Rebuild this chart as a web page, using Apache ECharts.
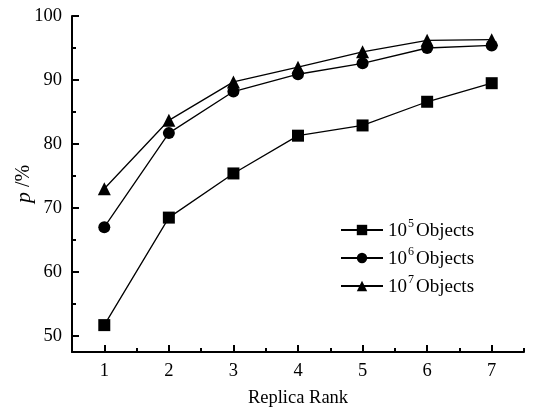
<!DOCTYPE html>
<html>
<head>
<meta charset="utf-8">
<script src="https://cdn.jsdelivr.net/npm/echarts@6/dist/echarts.min.js"></script>
<style>
  html, body { margin: 0; padding: 0; background: #fff; }
  #myChart { width: 538px; height: 410px; }
</style>
</head>
<body>
<div id="myChart"></div>
<script>
// replica rank on x axis
var ranks = [1, 2, 3, 4, 5, 6, 7]
// p (%) for each object count
var objects1e5 = [51.7, 68.5, 75.4, 81.3, 82.9, 86.6, 89.5]
var objects1e6 = [67.0, 81.7, 88.2, 90.9, 92.6, 95.0, 95.4]
var objects1e7 = [73.0, 83.7, 89.7, 92.0, 94.4, 96.2, 96.3]
var exponents = ['5', '6', '7']
var seriesNames = ['10^5 Objects', '10^6 Objects', '10^7 Objects']
// tick labels
var xMajorTicks = [1, 2, 3, 4, 5, 6, 7]
var xMinorTicks = [1.5, 2.5, 3.5, 4.5, 5.5, 6.5, 7.5]
var yMajorTicks = [50, 60, 70, 80, 90, 100]
var yMinorTicks = [55, 65, 75, 85, 95]

var font = '"Liberation Serif", "DejaVu Serif", serif'

function pairs (vals) {
  return ranks.map(function (r, i) { return [r, vals[i]] })
}

function lineSeries (name, vals, symbol, size) {
  return {
    name: name,
    type: 'line',
    data: pairs(vals),
    symbol: symbol,
    symbolSize: size,
    showSymbol: true,
    lineStyle: { color: '#000', width: 1.3 },
    itemStyle: { color: '#000' },
    emphasis: { disabled: true },
    animation: false
  }
}

var axisLine = { show: true, onZero: false, lineStyle: { color: '#000', width: 2 } }

var option = {
  backgroundColor: '#fff',
  animation: false,
  grid: { left: 72, right: 14, top: 16, bottom: 58, outerBoundsMode: 'none', containLabel: false },
  legend: {
    orient: 'vertical',
    left: 340,
    top: 218,
    padding: 0,
    itemWidth: 42,
    itemHeight: 13,
    itemGap: 5,
    data: seriesNames,
    formatter: function (name) {
      var k = seriesNames.indexOf(name)
      return '{n|10}{sup|' + exponents[k] + '}{n|Objects}'
    },
    textStyle: {
      color: '#000',
      fontFamily: font,
      fontSize: 19,
      rich: {
        n: { fontFamily: font, fontSize: 19, color: '#000', lineHeight: 22, verticalAlign: 'bottom', padding: [0, 0, 0, 0] },
        sup: { fontFamily: font, fontSize: 12, color: '#000', verticalAlign: 'bottom', lineHeight: 12, padding: [0, 2, 11, 1] }
      }
    }
  },
  xAxis: [
    {
      type: 'value',
      min: 0.5,
      max: 7.5,
      name: 'Replica Rank',
      nameLocation: 'middle',
      nameGap: 37,
      nameMoveOverlap: false,
      nameTextStyle: { fontFamily: font, fontSize: 18.5, color: '#000' },
      axisLine: axisLine,
      axisTick: { inside: true, length: 7, customValues: xMajorTicks, lineStyle: { color: '#000', width: 2 } },
      axisLabel: { customValues: xMajorTicks, margin: 10, fontFamily: font, fontSize: 18.5, color: '#000' },
      splitLine: { show: false }
    },
    {
      type: 'value',
      position: 'bottom',
      min: 0.5,
      max: 7.5,
      axisLine: { show: false },
      axisTick: { inside: true, length: 4, customValues: xMinorTicks, lineStyle: { color: '#000', width: 2 } },
      axisLabel: { show: false },
      splitLine: { show: false }
    }
  ],
  yAxis: [
    {
      type: 'value',
      min: 47.5,
      max: 100,
      name: '{it|p}{rest| /%}',
      nameLocation: 'middle',
      nameGap: 37,
      nameRotate: 90,
      nameMoveOverlap: false,
      nameTextStyle: {
        fontFamily: font,
        fontSize: 20,
        color: '#000',
        rich: {
          it: { fontFamily: font, fontSize: 22, fontStyle: 'italic', color: '#000' },
          rest: { fontFamily: font, fontSize: 20, color: '#000' }
        }
      },
      axisLine: axisLine,
      axisTick: { inside: true, length: 7, customValues: yMajorTicks, lineStyle: { color: '#000', width: 2 } },
      axisLabel: { customValues: yMajorTicks, margin: 10, fontFamily: font, fontSize: 18.5, color: '#000' },
      splitLine: { show: false }
    },
    {
      type: 'value',
      position: 'left',
      min: 47.5,
      max: 100,
      axisLine: { show: false },
      axisTick: { inside: true, length: 4, customValues: yMinorTicks, lineStyle: { color: '#000', width: 2 } },
      axisLabel: { show: false },
      splitLine: { show: false }
    }
  ],
  series: [
    lineSeries(seriesNames[0], objects1e5, 'rect', 12),
    lineSeries(seriesNames[1], objects1e6, 'circle', 12),
    lineSeries(seriesNames[2], objects1e7, 'triangle', 13)
  ]
}

var myChart = echarts.init(document.getElementById('myChart'))
myChart.setOption(option)
</script>
</body>
</html>
